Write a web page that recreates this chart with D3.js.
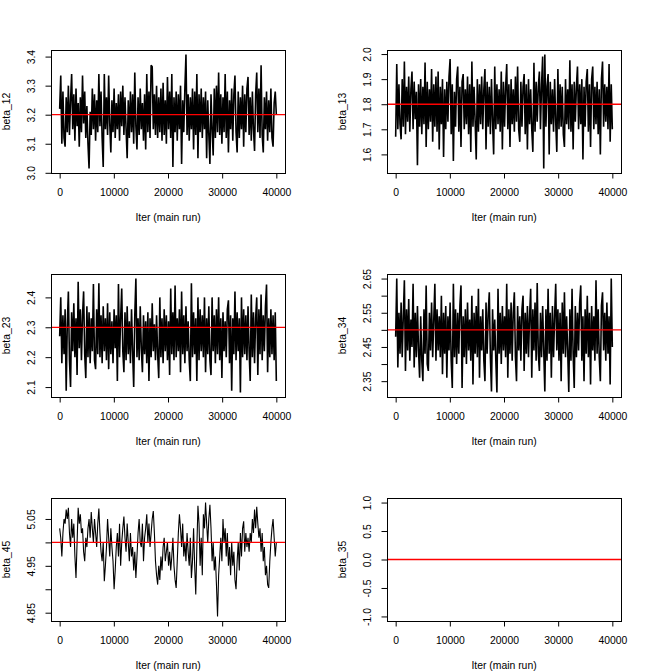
<!DOCTYPE html>
<html>
<head>
<meta charset="utf-8">
<script src="https://cdn.jsdelivr.net/npm/d3@7"></script>
<style>
  body { margin: 0; background: #fff; }
  text { font-family: "Liberation Sans", Arial, Helvetica, sans-serif; font-size: 10.4px; fill: #000; }
</style>
</head>
<body>
<div id="traces"></div>
<script>
// trace plots of the main run, one panel per parameter
var paramNames = ["beta_12", "beta_13", "beta_23", "beta_34", "beta_45", "beta_35"];
var trueValues = [3.2, 1.8, 2.3, 2.5, 5.0, 0.0];
var iterMax = 40000;
var iterTicks = [0, 10000, 20000, 30000, 40000];
var xLabel = "Iter (main run)";

// thinned chain values
var beta12 = [
  3.22,3.335,3.10,3.28,3.12,3.09,3.26,3.14,3.30,3.13,3.25,3.34,3.15,3.27,3.11,3.29,3.16,3.24,3.09,3.26,
  3.14,3.335,3.17,3.28,3.12,3.23,3.10,3.015,3.21,3.13,3.29,3.15,3.27,3.11,3.25,3.14,3.34,3.16,3.28,3.12,
  3.02,3.34,3.15,3.26,3.13,3.335,3.17,3.07,3.25,3.14,3.29,3.12,3.24,3.15,3.27,3.11,3.28,3.16,3.30,3.13,
  3.26,3.15,3.05,3.25,3.12,3.28,3.14,3.27,3.10,3.345,3.16,3.08,3.26,3.13,3.29,3.15,3.24,3.11,3.27,3.08,
  3.34,3.14,3.28,3.12,3.37,3.365,3.15,3.27,3.13,3.30,3.12,3.26,3.14,3.29,3.11,3.31,3.13,3.25,3.10,3.33,
  3.15,3.28,3.12,3.34,3.02,3.26,3.14,3.28,3.11,3.27,3.15,3.30,3.03,3.25,3.14,3.29,3.407,3.13,3.27,3.11,
  3.26,3.15,3.29,3.08,3.28,3.13,3.34,3.05,3.27,3.14,3.29,3.12,3.26,3.15,3.28,3.05,3.25,3.13,3.03,3.27,
  3.15,3.06,3.29,3.12,3.30,3.14,3.345,3.13,3.27,3.10,3.26,3.14,3.34,3.12,3.28,3.07,3.25,3.15,3.29,3.11,
  3.27,3.335,3.14,3.07,3.28,3.12,3.26,3.15,3.30,3.09,3.27,3.14,3.29,3.33,3.13,3.26,3.11,3.28,3.15,3.075,
  3.27,3.345,3.14,3.29,3.12,3.37,3.13,3.07,3.26,3.15,3.28,3.11,3.25,3.14,3.29,3.12,3.09,3.24,3.28,3.20
];
var beta13 = [
  1.67,1.96,1.70,1.88,1.72,1.66,1.90,1.71,1.97,1.68,1.87,1.73,1.91,1.69,1.86,1.93,1.70,1.89,1.74,1.85,
  1.557,1.88,1.71,1.90,1.68,1.87,1.72,1.966,1.63,1.89,1.70,1.86,1.73,1.94,1.65,1.88,1.71,1.91,1.69,1.93,
  1.62,1.87,1.72,1.90,1.59,1.86,1.70,1.89,1.73,1.91,1.98,1.68,1.88,1.574,1.85,1.71,1.90,1.95,1.69,1.87,
  1.63,1.89,1.92,1.70,1.86,1.72,1.91,1.68,1.88,1.61,1.97,1.71,1.87,1.73,1.58,1.90,1.69,1.88,1.72,1.91,
  1.70,1.86,1.94,1.62,1.89,1.71,1.87,1.68,1.90,1.73,1.60,1.95,1.70,1.88,1.72,1.86,1.69,1.93,1.62,1.89,
  1.71,1.87,1.96,1.70,1.88,1.63,1.90,1.72,1.86,1.69,1.91,1.73,1.95,1.70,1.65,1.89,1.71,1.87,1.92,1.68,
  1.88,1.62,1.90,1.72,1.86,1.70,1.61,1.965,1.69,1.89,1.73,1.87,1.93,1.70,1.88,1.99,1.544,1.998,1.71,1.87,
  1.92,1.60,1.89,1.72,1.86,1.69,1.90,1.73,1.61,1.94,1.70,1.88,1.71,1.87,1.68,1.63,1.90,1.72,1.86,1.70,
  1.975,1.69,1.88,1.62,1.89,1.73,1.87,1.95,1.70,1.88,1.72,1.90,1.58,1.87,1.71,1.89,1.94,1.69,1.88,1.63,
  1.90,1.95,1.70,1.87,1.72,1.89,1.68,1.86,1.60,1.90,1.97,1.71,1.88,1.73,1.87,1.70,1.96,1.65,1.88,1.70
];
var beta23 = [
  2.27,2.40,2.18,2.34,2.21,2.36,2.088,2.31,2.42,2.19,2.10,2.35,2.22,2.38,2.20,2.33,2.14,2.452,2.23,2.36,
  2.19,2.34,2.42,2.21,2.13,2.37,2.20,2.35,2.18,2.33,2.22,2.445,2.19,2.16,2.36,2.21,2.447,2.20,2.34,2.18,
  2.37,2.22,2.33,2.19,2.38,2.16,2.35,2.21,2.32,2.18,2.36,2.23,2.34,2.12,2.445,2.20,2.33,2.43,2.22,2.15,
  2.35,2.19,2.37,2.21,2.32,2.18,2.36,2.22,2.10,2.34,2.463,2.20,2.33,2.19,2.37,2.23,2.15,2.34,2.21,2.32,
  2.18,2.35,2.12,2.33,2.20,2.38,2.22,2.31,2.19,2.34,2.21,2.13,2.40,2.20,2.33,2.18,2.36,2.22,2.34,2.19,
  2.32,2.14,2.43,2.21,2.35,2.19,2.44,2.20,2.33,2.22,2.36,2.15,2.42,2.21,2.34,2.18,2.37,2.22,2.32,2.19,
  2.12,2.447,2.20,2.35,2.21,2.33,2.12,2.40,2.19,2.36,2.22,2.34,2.20,2.40,2.15,2.33,2.21,2.37,2.19,2.14,
  2.40,2.22,2.34,2.18,2.36,2.21,2.40,2.19,2.33,2.13,2.35,2.22,2.32,2.20,2.36,2.39,2.18,2.34,2.088,2.33,
  2.21,2.42,2.19,2.35,2.22,2.33,2.082,2.40,2.20,2.36,2.21,2.34,2.19,2.37,2.22,2.12,2.41,2.20,2.35,2.18,
  2.33,2.40,2.14,2.36,2.21,2.41,2.19,2.34,2.22,2.37,2.443,2.15,2.33,2.20,2.36,2.21,2.34,2.19,2.35,2.12
];
var beta34 = [
  2.48,2.65,2.39,2.55,2.43,2.58,2.42,2.54,2.645,2.38,2.56,2.44,2.59,2.41,2.53,2.45,2.635,2.39,2.55,2.42,
  2.57,2.44,2.36,2.54,2.41,2.35,2.56,2.43,2.63,2.40,2.38,2.55,2.44,2.58,2.42,2.53,2.635,2.41,2.56,2.44,
  2.54,2.42,2.60,2.37,2.55,2.43,2.57,2.36,2.54,2.44,2.58,2.41,2.33,2.635,2.42,2.56,2.40,2.55,2.43,2.57,
  2.63,2.33,2.54,2.42,2.56,2.40,2.58,2.44,2.53,2.41,2.60,2.34,2.55,2.43,2.57,2.42,2.62,2.36,2.54,2.44,
  2.56,2.41,2.35,2.58,2.43,2.55,2.61,2.42,2.32,2.56,2.44,2.53,2.41,2.317,2.62,2.43,2.55,2.40,2.57,2.44,
  2.54,2.42,2.635,2.36,2.56,2.43,2.58,2.41,2.55,2.61,2.42,2.35,2.57,2.44,2.54,2.41,2.56,2.60,2.38,2.55,
  2.43,2.57,2.42,2.54,2.62,2.36,2.56,2.44,2.58,2.41,2.637,2.43,2.38,2.55,2.42,2.57,2.44,2.32,2.56,2.41,
  2.62,2.43,2.55,2.36,2.57,2.42,2.54,2.635,2.44,2.56,2.41,2.55,2.35,2.58,2.43,2.61,2.42,2.54,2.44,2.318,
  2.56,2.41,2.62,2.43,2.33,2.57,2.42,2.55,2.44,2.58,2.63,2.41,2.54,2.35,2.56,2.43,2.60,2.42,2.55,2.34,
  2.57,2.44,2.54,2.41,2.645,2.43,2.56,2.42,2.35,2.57,2.61,2.44,2.55,2.41,2.58,2.43,2.54,2.34,2.65,2.45
];
var beta45 = [
  5.03,5.01,4.97,5.02,5.05,5.04,5.07,5.05,5.074,5.02,4.99,5.05,5.01,5.04,4.97,4.924,5.00,5.074,5.04,5.06,
  5.02,5.03,4.98,4.96,5.01,4.99,5.03,5.05,5.01,5.065,5.03,5.00,5.05,5.02,4.99,5.04,5.072,5.02,4.98,4.96,
  5.00,4.917,4.95,4.99,5.05,5.01,4.97,5.03,4.99,4.96,4.90,4.94,4.99,5.02,4.97,5.04,4.95,5.00,5.03,5.055,
  5.01,4.98,5.04,5.00,4.96,5.02,4.97,4.99,4.94,4.98,4.924,4.97,5.02,5.05,5.00,4.99,5.04,4.96,5.01,5.03,
  5.06,5.00,5.04,4.99,5.02,5.05,5.067,5.02,4.96,4.93,4.91,4.95,4.92,4.97,4.94,4.99,5.01,4.96,4.98,5.00,
  4.95,4.98,4.94,4.97,5.01,4.95,4.92,4.903,4.96,5.02,5.06,5.03,4.99,5.04,4.97,5.00,4.96,5.02,4.98,4.95,
  5.01,4.924,4.96,5.03,4.95,4.889,4.99,5.078,5.04,4.95,5.01,4.93,5.06,5.03,5.085,5.04,5.00,5.05,5.08,5.03,
  4.96,5.00,4.94,4.97,4.91,4.842,4.93,4.97,5.01,4.96,5.05,5.00,5.03,4.97,5.02,4.95,4.99,4.93,5.00,4.95,
  4.98,4.92,4.90,4.96,5.00,4.94,5.02,4.97,5.03,5.045,4.98,5.02,4.99,5.01,4.98,5.02,5.00,5.05,5.02,5.07,
  5.03,5.076,5.04,5.01,5.03,4.98,5.02,4.96,4.99,4.93,4.95,4.91,4.903,4.96,5.00,5.03,5.05,5.01,4.97,5.00
];
var beta35 = [0, 0, 0, 0, 0];

// y ticks and their labels ("" = tick without label)
var ticks12 = [3.0, 3.1, 3.2, 3.3, 3.4];
var labels12 = ["3.0", "3.1", "3.2", "3.3", "3.4"];
var ticks13 = [1.6, 1.7, 1.8, 1.9, 2.0];
var labels13 = ["1.6", "1.7", "1.8", "1.9", "2.0"];
var ticks23 = [2.1, 2.2, 2.3, 2.4];
var labels23 = ["2.1", "2.2", "2.3", "2.4"];
var ticks34 = [2.35, 2.40, 2.45, 2.50, 2.55, 2.60, 2.65];
var labels34 = ["2.35", "", "2.45", "", "2.55", "", "2.65"];
var ticks45 = [4.85, 4.90, 4.95, 5.00, 5.05];
var labels45 = ["4.85", "", "4.95", "", "5.05"];
var ticks35 = [-1.0, -0.5, 0.0, 0.5, 1.0];
var labels35 = ["-1.0", "-0.5", "0.0", "0.5", "1.0"];

var chains = [beta12, beta13, beta23, beta34, beta45, beta35];
var yTicks = [ticks12, ticks13, ticks23, ticks34, ticks45, ticks35];
var yLabels = [labels12, labels13, labels23, labels34, labels45, labels35];

// thicker strokes for the thinned, fast-mixing chains so they read as a solid band
var traceWidths = [1.6, 1.6, 1.6, 1.6, 1.1, 1];

// layout: 3 rows x 2 columns, R-like margins
var cell_width = 336, cell_height = 224;
var margin = {top: 50, right: 51, bottom: 51, left: 51},
    width = cell_width - margin.left - margin.right,
    height = cell_height - margin.top - margin.bottom;

var svg = d3.select("#traces")
  .append("svg")
    .attr("width", 672)
    .attr("height", 672);

svg.append("rect")
    .attr("width", 672)
    .attr("height", 672)
    .attr("fill", "#fff");

// R pads the data range by 4% on each side
function padRange(ext) {
    if (ext[0] === ext[1]) {
        ext = ext[0] === 0 ? [-1, 1] : [ext[0] * 0.6, ext[0] * 1.4];
    }
    var pad = (ext[1] - ext[0]) * 0.04;
    return [ext[0] - pad, ext[1] + pad];
}

var x = d3.scaleLinear()
    .domain(padRange([0, iterMax]))
    .range([0, width]);

paramNames.forEach(function(name, k) {
    var values = chains[k];
    var step = iterMax / (values.length - 1);
    var col = k % 2, row = Math.floor(k / 2);

    var g = svg.append("g")
        .attr("transform", "translate(" + (col * cell_width + margin.left) + "," + (row * cell_height + margin.top) + ")");

    var y = d3.scaleLinear()
        .domain(padRange(d3.extent(values)))
        .range([height, 0]);

    // trace
    var line = d3.line()
        .x(function(d, i) { return x(i * step); })
        .y(function(d) { return y(d); });

    g.append("path")
        .datum(values)
        .attr("d", line)
        .attr("fill", "none")
        .attr("stroke", "#000")
        .attr("stroke-width", traceWidths[k])
        .attr("stroke-linejoin", "bevel");

    // true value
    g.append("line")
        .attr("x1", 0)
        .attr("x2", width)
        .attr("y1", y(trueValues[k]))
        .attr("y2", y(trueValues[k]))
        .attr("stroke", "#ff0000")
        .attr("stroke-width", 1.3);

    // X axis
    g.append("g")
        .attr("transform", "translate(0," + height + ")")
        .call(d3.axisBottom(x).tickValues(iterTicks).tickFormat(d3.format("d")).tickSize(5.5).tickPadding(9.8))
        .call(function(a) { a.select(".domain").remove(); });

    // Y axis, labels turned like R's las = 0
    var labs = yLabels[k];
    g.append("g")
        .call(d3.axisLeft(y).tickValues(yTicks[k]).tickFormat(function(d, i) { return labs[i]; }).tickSize(5.5))
        .call(function(a) { a.select(".domain").remove(); })
        .selectAll("text")
          .attr("transform", "rotate(-90)")
          .attr("x", 0)
          .attr("y", -16)
          .attr("dy", null)
          .style("text-anchor", "middle");

    // box
    g.append("rect")
        .attr("width", width)
        .attr("height", height)
        .attr("fill", "none")
        .attr("stroke", "#000")
        .attr("shape-rendering", "crispEdges");

    // axis titles
    g.append("text")
        .attr("x", width / 2)
        .attr("y", height + 47.7)
        .style("text-anchor", "middle")
        .text(xLabel);

    g.append("text")
        .attr("transform", "translate(-41," + (height / 2) + ") rotate(-90)")
        .style("text-anchor", "middle")
        .text(name);
});
</script>
</body>
</html>
